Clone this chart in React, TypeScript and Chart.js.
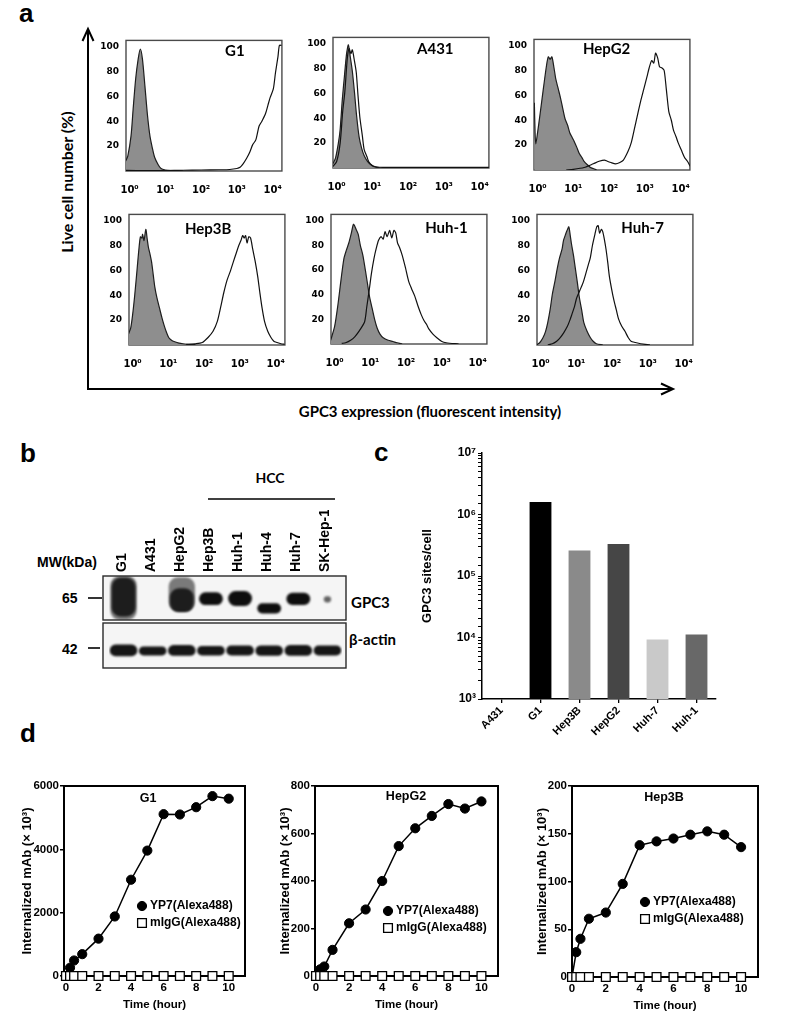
import React, { useEffect, useRef } from 'react';
import { Chart, registerables } from 'chart.js';
Chart.register(...registerables);

const ARIAL = "'Liberation Sans', Arial, sans-serif";
const CALIBRI = "Lato, 'Open Sans', sans-serif";
const HEAVY = "'DejaVu Sans', sans-serif";
const SUP = ['⁰', '¹', '²', '³', '⁴', '⁵', '⁶', '⁷', '⁸', '⁹'];

type Pt = [number, number];

// ---------------- Panel a : flow cytometry histograms (x = log10 intensity, y = % of max)
const histNames = ['G1', 'A431', 'HepG2', 'Hep3B', 'Huh-1', 'Huh-7'];

const g1Ctrl: Pt[] = [[-0.11, 8], [-0.05, 12], [0.04, 28], [0.1, 50], [0.17, 74], [0.24, 90], [0.3, 98], [0.36, 90], [0.43, 68], [0.5, 45], [0.57, 28], [0.64, 18], [0.7, 11], [0.8, 5], [0.88, 2], [1.0, 0.8], [1.14, 0.3], [1.5, 0]];
const g1Open: Pt[] = [[-0.11, 0.5], [0.5, 0.3], [1.0, 0.3], [1.5, 0.6], [2.0, 0.8], [2.5, 1], [2.8, 1.2], [3.0, 2], [3.09, 3], [3.18, 6], [3.27, 10], [3.36, 15], [3.44, 21], [3.53, 25], [3.62, 36], [3.7, 40], [3.8, 46], [3.87, 53], [3.93, 59], [4.02, 66], [4.08, 79], [4.15, 92], [4.19, 101], [4.25, 101]];

const a431Ctrl: Pt[] = [[-0.11, 3], [-0.03, 8], [0.05, 20], [0.1, 31], [0.16, 55], [0.22, 74], [0.28, 92], [0.33, 99], [0.38, 90], [0.44, 78], [0.5, 61], [0.56, 42], [0.63, 25], [0.7, 16], [0.77, 10], [0.85, 6], [0.94, 3], [1.05, 1], [1.2, 0]];
const a431Open: Pt[] = [[-0.11, 1], [0, 5], [0.1, 20], [0.17, 45], [0.23, 61], [0.3, 88], [0.35, 96], [0.4, 92], [0.44, 95], [0.5, 86], [0.55, 77], [0.6, 58], [0.65, 41], [0.72, 26], [0.77, 15], [0.85, 9], [0.9, 5], [1.0, 2], [1.1, 1], [1.3, 0.5], [4.26, 0.5]];

const hepg2Ctrl: Pt[] = [[-0.09, 54], [-0.07, 30], [-0.05, 21], [0, 30], [0.07, 45], [0.16, 65], [0.25, 84], [0.3, 91], [0.35, 89], [0.4, 91], [0.46, 82], [0.51, 73], [0.58, 65], [0.64, 58], [0.7, 50], [0.77, 41], [0.84, 36], [0.9, 30], [0.97, 26], [1.04, 22], [1.1, 18], [1.17, 13], [1.24, 10], [1.3, 7], [1.4, 4], [1.48, 2], [1.57, 1], [1.65, 0]];
const hepg2Open: Pt[] = [[0.8, 0], [1.0, 0.5], [1.3, 2], [1.56, 5], [1.72, 7], [1.87, 8], [1.95, 7], [2.05, 6], [2.18, 5], [2.3, 6], [2.4, 8], [2.53, 15], [2.62, 22], [2.7, 32], [2.8, 45], [2.88, 55], [2.97, 65], [3.06, 75], [3.12, 82], [3.19, 88], [3.25, 86], [3.3, 94], [3.36, 90], [3.41, 83], [3.48, 82], [3.54, 80], [3.6, 65], [3.67, 47], [3.74, 40], [3.8, 32], [3.87, 27], [3.93, 22], [4.02, 16], [4.11, 10], [4.19, 7], [4.27, 3]];

const hep3bCtrl: Pt[] = [[-0.11, 9], [-0.05, 14], [0, 24], [0.06, 40], [0.13, 62], [0.18, 78], [0.22, 87], [0.26, 86], [0.28, 89], [0.32, 84], [0.37, 93], [0.41, 85], [0.44, 79], [0.48, 74], [0.53, 67], [0.58, 56], [0.62, 47], [0.68, 38], [0.75, 30], [0.82, 22], [0.88, 16], [0.95, 10], [1.01, 6], [1.08, 4], [1.14, 3], [1.3, 1.5], [1.41, 1], [1.6, 0.5], [1.76, 0.5]];
const hep3bOpen: Pt[] = [[1.5, 0.5], [1.76, 1], [1.95, 2], [2.11, 6], [2.25, 11], [2.37, 19], [2.46, 30], [2.55, 42], [2.64, 52], [2.73, 59], [2.82, 67], [2.9, 74], [2.97, 80], [3.03, 84], [3.08, 88], [3.12, 86], [3.16, 88], [3.2, 82], [3.25, 87], [3.3, 86], [3.36, 77], [3.43, 67], [3.5, 55], [3.56, 42], [3.62, 30], [3.69, 19], [3.78, 11], [3.87, 6], [3.95, 3], [4.04, 2], [4.15, 1], [4.25, 0.5]];

const huh1Ctrl: Pt[] = [[-0.11, 3], [0, 14], [0.09, 31], [0.18, 52], [0.26, 69], [0.33, 76], [0.4, 82], [0.47, 90], [0.53, 97], [0.6, 93], [0.66, 89], [0.72, 80], [0.79, 72], [0.86, 60], [0.92, 49], [0.98, 38], [1.05, 29], [1.12, 20], [1.19, 13], [1.27, 8], [1.36, 5], [1.5, 3], [1.63, 2], [1.75, 1], [1.89, 0]];
const huh1Open: Pt[] = [[0.2, 0.5], [0.31, 1], [0.45, 3], [0.57, 6], [0.7, 11], [0.84, 18], [0.9, 30], [0.97, 44], [1.03, 57], [1.1, 69], [1.17, 78], [1.23, 84], [1.3, 87], [1.36, 85], [1.41, 91], [1.47, 87], [1.54, 92], [1.6, 86], [1.66, 92], [1.71, 90], [1.76, 82], [1.82, 78], [1.89, 72], [1.98, 62], [2.07, 51], [2.15, 45], [2.24, 39], [2.33, 31], [2.42, 24], [2.5, 19], [2.57, 16], [2.64, 12], [2.75, 8], [2.86, 5], [3.0, 2], [3.12, 1], [3.47, 0]];

const huh7Ctrl: Pt[] = [[-0.11, 0], [-0.02, 2], [0.07, 6], [0.14, 11], [0.2, 18], [0.27, 29], [0.33, 41], [0.4, 51], [0.47, 62], [0.53, 70], [0.6, 77], [0.64, 84], [0.7, 89], [0.74, 92], [0.79, 95], [0.83, 88], [0.86, 82], [0.92, 72], [0.97, 62], [1.03, 50], [1.08, 39], [1.15, 28], [1.21, 18], [1.3, 11], [1.39, 6], [1.47, 3], [1.56, 1], [1.74, 0]];
const huh7Open: Pt[] = [[0.2, 0], [0.33, 1], [0.45, 3], [0.55, 6], [0.65, 10], [0.75, 15], [0.82, 20], [0.88, 25], [0.95, 31], [1.0, 37], [1.04, 40], [1.1, 44], [1.16, 48], [1.21, 52], [1.28, 59], [1.34, 65], [1.39, 70], [1.45, 80], [1.52, 89], [1.57, 95], [1.61, 96], [1.65, 90], [1.7, 93], [1.74, 91], [1.79, 84], [1.83, 77], [1.88, 66], [1.92, 56], [1.98, 46], [2.05, 36], [2.12, 28], [2.18, 21], [2.27, 15], [2.36, 11], [2.45, 6], [2.53, 3], [2.65, 2], [2.8, 1], [3.06, 0]];

// ---------------- Panel b : western blot (relative band position in each strip, 0 = bottom, 100 = top)
const blotLanes = ['G1', 'A431', 'HepG2', 'Hep3B', 'Huh-1', 'Huh-4', 'Huh-7', 'SK-Hep-1'];
const gpc3Smear = [[0, 100], null, [20, 97], null, null, null, null, null];
const gpc3Band = [[8, 96], null, [18, 72], [34, 63], [32, 66], [15, 38], [34, 62], null];
const gpc3Faint = [null, null, null, null, null, null, null, [40, 54]];
const actinBand = [[26, 52], [28, 48], [27, 51], [28, 49], [28, 50], [27, 50], [27, 51], [28, 50]];

// ---------------- Panel c : GPC3 sites per cell
const siteCells = ['A431', 'G1', 'Hep3B', 'HepG2', 'Huh-7', 'Huh-1'];
const siteValues = [null, 1600000, 260000, 330000, 9300, 11200];
const siteColors = ['#000000', '#000000', '#8a8a8a', '#464646', '#c9c9c9', '#686868'];

// ---------------- Panel d : internalization kinetics
const timeHours = [0, 0.25, 0.5, 1, 2, 3, 4, 5, 6, 7, 8, 9, 10];
const g1YP7 = [0, 260, 490, 690, 1180, 1880, 3040, 3960, 5110, 5100, 5330, 5680, 5600];
const hepg2YP7 = [0, 28, 40, 110, 222, 280, 400, 547, 622, 674, 724, 705, 735];
const hep3bYP7 = [0, 26, 40, 61, 67.5, 97.5, 138, 142, 145, 149, 152.5, 149, 136];
const mIgGValues = [0, 0, 0, 0, 0, 0, 0, 0, 0, 0, 0, 0, 0];
const seriesNames = ['YP7(Alexa488)', 'mIgG(Alexa488)'];

// ---------------- plugins
const framePlugin = {
  id: 'frame',
  beforeDatasetsDraw(chart: any, _a: any, o: any) {
    if (!o || !o.color) return;
    const { ctx, chartArea: a } = chart;
    const p = o.pad || { l: 0, r: 0, t: 0, b: 0 };
    const x = a.left - p.l, y = a.top - p.t;
    const w = a.right - a.left + p.l + p.r, h = a.bottom - a.top + p.t + p.b;
    ctx.save();
    if (o.fill) { ctx.fillStyle = o.fill; ctx.fillRect(x, y, w, h); }
    ctx.strokeStyle = o.color;
    ctx.lineWidth = o.width || 1;
    ctx.strokeRect(x, y, w, h);
    ctx.restore();
  },
};

const blurPlugin = {
  id: 'blur',
  beforeDatasetsDraw(chart: any, _a: any, o: any) {
    if (!o || !o.px) return;
    chart.ctx.save();
    chart.ctx.filter = `blur(${o.px}px)`;
  },
  afterDatasetsDraw(chart: any, _a: any, o: any) {
    if (!o || !o.px) return;
    chart.ctx.restore();
  },
};

const innerTitlePlugin = {
  id: 'innerTitle',
  afterDatasetsDraw(chart: any, _a: any, o: any) {
    if (!o || !o.text) return;
    const { ctx, chartArea: a } = chart;
    ctx.save();
    ctx.font = o.font;
    ctx.fillStyle = '#000';
    ctx.textAlign = 'center';
    ctx.textBaseline = 'middle';
    ctx.fillText(o.text, a.left + o.dx, a.top + o.dy);
    ctx.restore();
  },
};

const innerLegendPlugin = {
  id: 'innerLegend',
  afterDatasetsDraw(chart: any, _a: any, o: any) {
    if (!o || o.dx === undefined) return;
    const { ctx, chartArea: a } = chart;
    ctx.save();
    chart.data.datasets.forEach((ds: any, i: number) => {
      const x = a.left + o.dx, y = a.top + o.dy + i * o.gap;
      ctx.beginPath();
      if (ds.pointStyle === 'rect') {
        const s = ds.pointRadius * Math.SQRT1_2;
        ctx.rect(x - s, y - s, 2 * s, 2 * s);
      } else {
        ctx.arc(x, y, ds.pointRadius, 0, Math.PI * 2);
      }
      ctx.fillStyle = ds.pointBackgroundColor;
      ctx.fill();
      ctx.lineWidth = ds.pointBorderWidth;
      ctx.strokeStyle = ds.pointBorderColor;
      ctx.stroke();
      ctx.fillStyle = '#000';
      ctx.font = o.font;
      ctx.textAlign = 'left';
      ctx.textBaseline = 'middle';
      ctx.fillText(ds.label, x + o.textGap, y);
    });
    ctx.restore();
  },
};

const PLUGINS = [framePlugin, blurPlugin, innerTitlePlugin, innerLegendPlugin];

// ---------------- generic canvas
function ChartCanvas({ left, top, width, height, make }: any) {
  const ref = useRef<HTMLCanvasElement>(null);
  useEffect(() => {
    const chart = new Chart(ref.current as HTMLCanvasElement, make());
    return () => chart.destroy();
  }, []);
  return (
    <canvas
      ref={ref}
      width={width}
      height={height}
      style={{ position: 'absolute', left, top, width, height }}
    />
  );
}

function Txt({ x, y, anchor = 'left', rot = 0, font, children }: any) {
  const tx = anchor === 'center' ? '-50%' : anchor === 'right' ? '-100%' : '0';
  return (
    <div
      style={{
        position: 'absolute', left: x, top: y, font, color: '#000', lineHeight: 1,
        whiteSpace: 'nowrap',
        transform: `translate(${tx}, -50%)${rot ? ` rotate(${rot}deg)` : ''}`,
      }}
    >
      {children}
    </div>
  );
}

// ---------------- Panel a histogram
function Histogram({ name, ctrl, open, box, tx, ty }: any) {
  const YW = 40, XH = 30, PT = 4, PR = 4;
  const make = () => ({
    type: 'line',
    data: {
      datasets: [
        {
          data: open.map(([x, y]: Pt) => ({ x, y })), borderColor: '#111', borderWidth: 1.2,
          fill: false, pointRadius: 0, tension: 0.25, order: 0,
        },
        {
          data: ctrl.map(([x, y]: Pt) => ({ x, y })), borderColor: '#1e1e1e', borderWidth: 1.2,
          backgroundColor: '#8e8e8e', fill: 'origin', pointRadius: 0, tension: 0.25, order: 1,
        },
      ],
    },
    options: {
      responsive: false, animation: false,
      layout: { padding: { left: 0, right: PR, top: PT, bottom: 0 } },
      scales: {
        x: {
          type: 'linear', min: -0.1, max: 4.26,
          afterFit: (s: any) => { s.height = XH; },
          grid: { display: false, drawTicks: false }, border: { display: false },
          ticks: {
            stepSize: 1, includeBounds: false, color: '#000', padding: 13,
            font: { family: HEAVY, size: 10, weight: 'bold' },
            callback: (v: number) => '10' + SUP[v],
          },
        },
        y: {
          min: 0, max: 105,
          afterFit: (s: any) => { s.width = YW; },
          grid: { display: false, drawTicks: false }, border: { display: false },
          ticks: {
            stepSize: 20, includeBounds: false, color: '#000', padding: 7,
            font: { family: HEAVY, size: 9, weight: 'bold' },
            callback: (v: number) => (v === 0 ? '' : String(v)),
          },
        },
      },
      plugins: {
        legend: { display: false }, tooltip: { enabled: false },
        frame: { color: '#4a4a4a', width: 1.4 },
        innerTitle: { text: name, dx: tx * box.w, dy: ty, font: `bold 15px ${CALIBRI}` },
      },
    },
    plugins: PLUGINS,
  });
  return (
    <ChartCanvas left={box.l - YW} top={box.t - PT} width={YW + box.w + PR} height={PT + box.h + XH} make={make} />
  );
}

// ---------------- Panel b western blot
function Blot() {
  const L = 101, PL = 8, PR = 6, W = 233;
  const common = (extra: any) => ({
    responsive: false, animation: false,
    ...extra,
  });
  const bandDs = (data: any, color: string, bp: number) => ({
    data, backgroundColor: color, barPercentage: bp, categoryPercentage: 1,
    borderRadius: 9, borderSkipped: false, grouped: false,
  });
  const frame = { color: '#2a2a2a', width: 1.4, fill: '#f5f5f5', pad: { l: 6, r: 4, t: 0, b: 0 } };
  const makeTop = () => ({
    type: 'bar',
    data: {
      labels: blotLanes,
      datasets: [
        bandDs(gpc3Smear, 'rgba(40,40,40,0.6)', 0.9),
        bandDs(gpc3Band, '#0e0e0e', 0.82),
        bandDs(gpc3Faint, 'rgba(50,50,50,0.75)', 0.25),
      ],
    },
    options: common({
      layout: { padding: { left: PL, right: PR, top: 0, bottom: 2 } },
      scales: {
        x: {
          position: 'top',
          afterFit: (s: any) => { s.height = 66; },
          grid: { display: false, drawTicks: false }, border: { display: false },
          ticks: {
            minRotation: 90, maxRotation: 90, autoSkip: false, padding: 4, color: '#000',
            labelOffset: 15,
            font: { family: ARIAL, size: 14, weight: 'bold' },
          },
        },
        y: { display: false, min: 0, max: 100 },
      },
      plugins: { legend: { display: false }, tooltip: { enabled: false }, frame, blur: { px: 1.3 } },
    }),
    plugins: PLUGINS,
  });
  const makeBottom = () => ({
    type: 'bar',
    data: { labels: blotLanes, datasets: [bandDs(actinBand, '#151515', 0.95)] },
    options: common({
      layout: { padding: { left: PL, right: PR, top: 2, bottom: 2 } },
      scales: { x: { display: false }, y: { display: false, min: 0, max: 100 } },
      plugins: { legend: { display: false }, tooltip: { enabled: false }, frame, blur: { px: 1.1 } },
    }),
    plugins: PLUGINS,
  });
  return (
    <>
      <ChartCanvas left={L} top={510} width={PL + W + PR} height={66 + 44 + 2} make={makeTop} />
      <ChartCanvas left={L} top={621} width={PL + W + PR} height={2 + 45 + 2} make={makeBottom} />
    </>
  );
}

// ---------------- Panel c
function SitesChart() {
  const make = () => ({
    type: 'bar',
    data: {
      labels: siteCells,
      datasets: [{
        data: siteValues, backgroundColor: siteColors, barPercentage: 0.56, categoryPercentage: 1,
      }],
    },
    options: {
      responsive: false, animation: false,
      layout: { padding: { left: 0, right: 10, top: 10, bottom: 0 } },
      scales: {
        x: {
          afterFit: (s: any) => { s.height = 40; },
          grid: { drawOnChartArea: false, offset: false, tickLength: 4, color: '#000', lineWidth: 1.3 },
          border: { display: true, color: '#000', width: 1.5 },
          ticks: {
            minRotation: 45, maxRotation: 45, autoSkip: false, padding: 1, color: '#000',
            font: { family: ARIAL, size: 11, weight: 'bold' },
          },
        },
        y: {
          type: 'logarithmic', min: 1000, max: 10000000,
          afterFit: (s: any) => { s.width = 66; },
          grid: { drawOnChartArea: false, tickLength: 4, color: '#000', lineWidth: 1 },
          border: { display: true, color: '#000', width: 1.5 },
          ticks: {
            autoSkip: false, padding: 2, color: '#000',
            font: { family: ARIAL, size: 12, weight: 'bold' },
            callback: (v: number) => {
              const e = Math.log10(v);
              return Math.abs(e - Math.round(e)) < 1e-9 ? '10' + SUP[Math.round(e)] : '';
            },
          },
          title: {
            display: true, text: 'GPC3 sites/cell', color: '#000', padding: { top: 4, bottom: 0 },
            font: { family: ARIAL, size: 13, weight: 'bold' },
          },
        },
      },
      plugins: { legend: { display: false }, tooltip: { enabled: false } },
    },
    plugins: PLUGINS,
  });
  return <ChartCanvas left={416} top={443} width={66 + 234 + 10} height={10 + 246 + 40} make={make} />;
}

// ---------------- Panel d
function Kinetics({ title, yp7, box, yMax, yStep, xMin, axisW, leg, ttl }: any) {
  const PT = 8, PR = 8, XH = 40;
  const make = () => ({
    type: 'line',
    data: {
      labels: timeHours,
      datasets: [
        {
          label: seriesNames[0], data: timeHours.map((t, i) => ({ x: t, y: yp7[i] })),
          borderColor: '#000', borderWidth: 1.5, pointStyle: 'circle', pointRadius: 4.6,
          pointBackgroundColor: '#000', pointBorderColor: '#000', pointBorderWidth: 1,
          tension: 0, order: 1, clip: false,
        },
        {
          label: seriesNames[1], data: timeHours.map((t, i) => ({ x: t, y: mIgGValues[i] })),
          borderColor: '#000', borderWidth: 1.5, pointStyle: 'rect', pointRadius: 6.2,
          pointBackgroundColor: '#fff', pointBorderColor: '#000', pointBorderWidth: 1.3,
          tension: 0, order: 0, clip: false,
        },
      ],
    },
    options: {
      responsive: false, animation: false,
      layout: { padding: { left: 0, right: PR, top: PT, bottom: 0 } },
      scales: {
        x: {
          type: 'linear', min: xMin, max: 11,
          afterFit: (s: any) => { s.height = XH; },
          grid: { drawOnChartArea: false, tickLength: 4, color: '#000', lineWidth: 1.5 },
          border: { display: false },
          ticks: {
            stepSize: 2, includeBounds: false, padding: 1, color: '#000',
            font: { family: ARIAL, size: 11.5, weight: 'bold' },
            callback: (v: number) => String(v),
          },
          title: {
            display: true, text: 'Time (hour)', color: '#000', padding: { top: 2, bottom: 4 },
            font: { family: ARIAL, size: 11.5, weight: 'bold' },
          },
        },
        y: {
          min: 0, max: yMax,
          afterFit: (s: any) => { s.width = axisW; },
          grid: { drawOnChartArea: false, tickLength: 4, color: '#000', lineWidth: 1.5 },
          border: { display: false },
          ticks: {
            stepSize: yStep, padding: 1, color: '#000',
            font: { family: ARIAL, size: 11.5, weight: 'bold' },
            callback: (v: number) => String(v),
          },
          title: {
            display: true, text: 'Internalized mAb (× 10³)', color: '#000', padding: { top: 4, bottom: 0 },
            font: { family: ARIAL, size: 13, weight: 'bold' },
          },
        },
      },
      plugins: {
        legend: { display: false }, tooltip: { enabled: false },
        frame: { color: '#000', width: 2 },
        innerTitle: { text: title, dx: ttl[0], dy: ttl[1], font: `bold 12.5px ${ARIAL}` },
        innerLegend: { dx: leg[0], dy: leg[1], gap: 17, textGap: 8, font: `bold 12px ${ARIAL}` },
      },
    },
    plugins: PLUGINS,
  });
  return (
    <ChartCanvas left={box.l - axisW} top={box.t - PT} width={axisW + box.w + PR} height={PT + box.h + XH} make={make} />
  );
}

export default function App() {
  const hists = [
    { ctrl: g1Ctrl, open: g1Open, box: { l: 126, t: 32, w: 165, h: 139 }, tx: 0.66, ty: 11 },
    { ctrl: a431Ctrl, open: a431Open, box: { l: 333, t: 29, w: 165, h: 139 }, tx: 0.62, ty: 12 },
    { ctrl: hepg2Ctrl, open: hepg2Open, box: { l: 534, t: 31, w: 165, h: 139 }, tx: 0.44, ty: 10 },
    { ctrl: hep3bCtrl, open: hep3bOpen, box: { l: 129, t: 206, w: 165, h: 139 }, tx: 0.48, ty: 15 },
    { ctrl: huh1Ctrl, open: huh1Open, box: { l: 331, t: 206, w: 165, h: 138 }, tx: 0.7, ty: 14 },
    { ctrl: huh7Ctrl, open: huh7Open, box: { l: 537, t: 206, w: 165, h: 139 }, tx: 0.64, ty: 14 },
  ];
  const big = `bold 26px ${ARIAL}`;
  return (
    <div style={{ position: 'absolute', left: 0, top: 0, width: 800, height: 1029, background: '#fff', overflow: 'hidden' }}>
      <svg width={800} height={1029} style={{ position: 'absolute', left: 0, top: 0 }}>
        <g stroke="#000" fill="none" strokeWidth={2}>
          <path d="M88 390 V29" />
          <path d="M82.5 41 L88 29 L93.5 41" />
          <path d="M87 389 H673" />
          <path d="M661 383.5 L673 389 L661 394.5" />
        </g>
        <g stroke="#000" fill="none" strokeWidth={1.6}>
          <path d="M208 499 H335" />
          <path d="M88 598 H102" />
          <path d="M88 648 H100" />
        </g>
      </svg>

      <div style={{ position: 'absolute', left: 19, top: 0, font: big, lineHeight: 1 }}>a</div>
      <div style={{ position: 'absolute', left: 20, top: 440, font: big, lineHeight: 1 }}>b</div>
      <div style={{ position: 'absolute', left: 374, top: 439, font: big, lineHeight: 1 }}>c</div>
      <div style={{ position: 'absolute', left: 20, top: 720, font: big, lineHeight: 1 }}>d</div>

      <Txt x={67} y={182} anchor="center" rot={-90} font={`bold 16px ${CALIBRI}`}>Live cell number (%)</Txt>
      <Txt x={430} y={411} anchor="center" font={`bold 15px ${CALIBRI}`}>GPC3 expression (fluorescent intensity)</Txt>

      {hists.map((h, i) => (
        <Histogram key={i} name={histNames[i]} {...h} />
      ))}

      <Txt x={270} y={478} anchor="center" font={`bold 14px ${CALIBRI}`}>HCC</Txt>
      <Txt x={37} y={562} font={`bold 14px ${ARIAL}`}>MW(kDa)</Txt>
      <Txt x={62} y={598} font={`bold 14px ${ARIAL}`}>65</Txt>
      <Txt x={62} y={649} font={`bold 14px ${ARIAL}`}>42</Txt>
      <Txt x={351} y={602} font={`bold 15px ${CALIBRI}`}>GPC3</Txt>
      <Txt x={349} y={639} font={`bold 15px ${CALIBRI}`}>β-actin</Txt>
      <Blot />

      <SitesChart />

      <Kinetics title="G1" yp7={g1YP7} box={{ l: 64, t: 786, w: 181, h: 190 }} yMax={6000} yStep={2000}
        xMin={-0.12} axisW={48} leg={[78, 120]} ttl={[84, 13]} />
      <Kinetics title="HepG2" yp7={hepg2YP7} box={{ l: 315, t: 786, w: 183, h: 190 }} yMax={800} yStep={200}
        xMin={-0.06} axisW={41} leg={[73, 125]} ttl={[91, 11]} />
      <Kinetics title="Hep3B" yp7={hep3bYP7} box={{ l: 572, t: 786, w: 186, h: 191 }} yMax={200} yStep={50}
        xMin={0} axisW={41} leg={[73, 116]} ttl={[92, 12]} />
    </div>
  );
}
